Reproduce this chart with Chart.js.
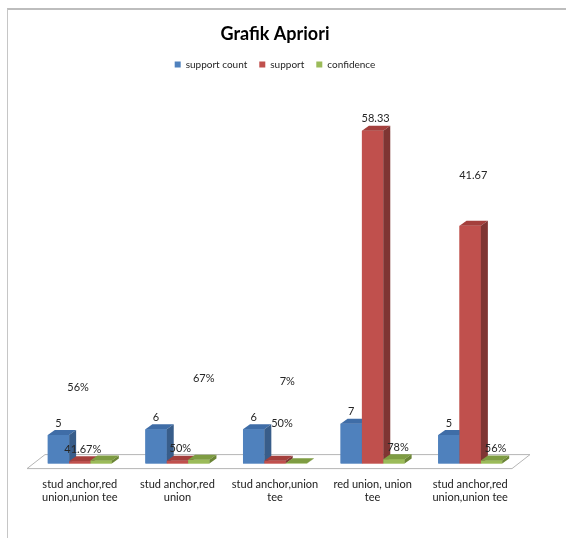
<!DOCTYPE html>
<html>
<head>
<meta charset="utf-8">
<script src="https://cdn.jsdelivr.net/npm/chart.js@4.4.1/dist/chart.umd.min.js"></script>
<style>
  html, body { margin: 0; padding: 0; background: #fff; }
  #wrap { position: relative; width: 566px; height: 538px; overflow: hidden; }
  #frame { position: absolute; left: 7px; top: 8px; right: 0; bottom: 0;
           border-left: 1px solid #c6c6c6; border-top: 2px solid #bdbdbd; }
  canvas { position: absolute; left: 0; top: 0; }
</style>
</head>
<body>
<div id="wrap">
  <div id="frame"></div>
  <canvas id="chart" width="566" height="538"></canvas>
</div>
<script>
// ── Data ─────────────────────────────────────────────────────────────────────

const categories = [
  ['stud anchor,red', 'union,union tee'],
  ['stud anchor,red', 'union'],
  ['stud anchor,union', 'tee'],
  ['red union, union', 'tee'],
  ['stud anchor,red', 'union,union tee']
];
const supportCount = [5, 6, 6, 7, 5];
const support = [0.4167, 0.5, 0.5, 58.33, 41.67];
const confidence = [0.56, 0.67, 0.07, 0.78, 0.56];

const supportCountLabels = ['5', '6', '6', '7', '5'];
const supportLabels = ['41.67%', '50%', '50%', '58.33', '41.67'];
const confidenceLabels = ['56%', '67%', '7%', '78%', '56%'];

// ── 3D look ──────────────────────────────────────────────────────────────────

const DX = 7, DY = 5;
const faces = [
  { front: '#4F81BD', top: '#3F6DA7', side: '#385D8A' },
  { front: '#C0504D', top: '#A43F3C', side: '#7F3533' },
  { front: '#9BBB59', top: '#7E9C42', side: '#6B8536' }
];

// Boden (Excel-3D-Floor) hinter den Balken
const floorPlugin = {
  id: 'floor3d',
  beforeDatasetsDraw(chart) {
    const { ctx, chartArea } = chart;
    const b = chart.scales.y.getPixelForValue(0);
    const l = chartArea.left, r = chartArea.right;
    ctx.save();
    ctx.beginPath();
    ctx.moveTo(l - 4, b + 5);
    ctx.lineTo(r - 7, b + 5);
    ctx.lineTo(r + 11, b - 9);
    ctx.lineTo(l + 14, b - 9);
    ctx.closePath();
    ctx.fillStyle = '#ffffff';
    ctx.fill();
    ctx.strokeStyle = '#b5b5b5';
    ctx.lineWidth = 1;
    ctx.stroke();
    ctx.restore();
  }
};

// Balken nochmal komplett zeichnen: Front, Deckel, Seite – je Kategorie von links nach rechts
const barsPlugin = {
  id: 'bars3d',
  afterDatasetsDraw(chart) {
    const { ctx } = chart;
    const metas = chart.data.datasets.map((_, i) => chart.getDatasetMeta(i));
    ctx.save();
    for (let j = 0; j < categories.length; j++) {
      metas.forEach((meta, i) => {
        const el = meta.data[j];
        if (!el) return;
        const { x, y, base, width } = el.getProps(['x', 'y', 'base', 'width'], true);
        const l = x - width / 2, r = x + width / 2;
        const c = faces[i];
        ctx.fillStyle = c.front;
        ctx.fillRect(l, y, width, base - y);
        ctx.beginPath();
        ctx.moveTo(l, y); ctx.lineTo(l + DX, y - DY); ctx.lineTo(r + DX, y - DY); ctx.lineTo(r, y);
        ctx.closePath();
        ctx.fillStyle = c.top; ctx.fill();
        ctx.beginPath();
        ctx.moveTo(r, y); ctx.lineTo(r + DX, y - DY); ctx.lineTo(r + DX, base - DY); ctx.lineTo(r, base);
        ctx.closePath();
        ctx.fillStyle = c.side; ctx.fill();
      });
    }
    ctx.restore();
  }
};

// Werte-Labels (Position wie im Excel-Original teils verschoben)
const labelPlugin = {
  id: 'valueLabels',
  afterDraw(chart, args, opts) {
    const { ctx } = chart;
    ctx.save();
    ctx.font = '11px Lato, "Open Sans", sans-serif';
    ctx.fillStyle = '#262626';
    ctx.textAlign = 'center';
    ctx.textBaseline = 'middle';
    opts.texts.forEach((list, i) => {
      const meta = chart.getDatasetMeta(i);
      list.forEach((txt, j) => {
        const el = meta.data[j];
        const sh = opts.shift[i][j];
        ctx.fillText(txt, el.x + 3 + sh[0], el.y - 12 + sh[1]);
      });
    });
    ctx.restore();
  }
};

new Chart(document.getElementById('chart'), {
  type: 'bar',
  data: {
    labels: categories,
    datasets: [
      { label: 'support count', data: supportCount, backgroundColor: faces[0].front },
      { label: 'support', data: support, backgroundColor: faces[1].front },
      { label: 'confidence', data: confidence, backgroundColor: faces[2].front }
    ]
  },
  options: {
    responsive: false,
    animation: false,
    devicePixelRatio: 1,
    categoryPercentage: 0.656,
    barPercentage: 1,
    layout: { padding: { left: 31, right: 47, top: 6, bottom: 28 } },
    plugins: {
      title: {
        display: true,
        text: 'Grafik Apriori',
        color: '#000',
        font: { family: 'Lato, "Open Sans", sans-serif', size: 18, weight: 'bold' },
        padding: { top: 17, bottom: 3 }
      },
      legend: {
        position: 'top',
        labels: {
          boxWidth: 6, boxHeight: 6, padding: 12, color: '#262626',
          font: { family: 'Lato, "Open Sans", sans-serif', size: 10 }
        }
      },
      tooltip: { enabled: false },
      valueLabels: {
        texts: [supportCountLabels, supportLabels, confidenceLabels],
        shift: [
          [[-3, 0], [-3, 0], [-3, 0], [-3, 0], [-3, 0]],
          [[0, 0], [0, 0], [4, -25], [0, 0], [0, -38]],
          [[-26, -61], [2, -69], [-12, -70], [1, 0], [1, 0]]
        ]
      }
    },
    scales: {
      x: {
        grid: { display: false },
        border: { display: false },
        ticks: {
          color: '#1a1a1a', padding: 6, maxRotation: 0, autoSkip: false,
          font: { family: 'Lato, "Open Sans", sans-serif', size: 11 }
        }
      },
      y: { display: false, min: 0, max: 67.3 }
    }
  },
  plugins: [floorPlugin, barsPlugin, labelPlugin]
});
</script>
</body>
</html>
